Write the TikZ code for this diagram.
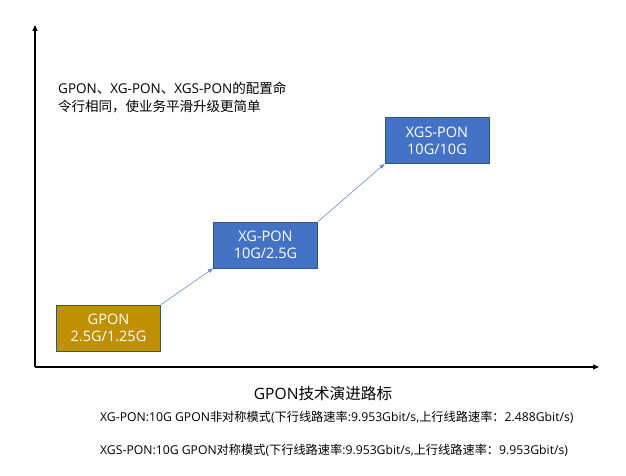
\documentclass[tikz,border=0pt]{standalone}
\usepackage{fontspec}
\setmainfont{Open Sans}
\newfontfamily\cjk{Noto Sans CJK SC}
\newcommand\zh[1]{{\cjk #1}}
\usetikzlibrary{arrows.meta}
\definecolor{gold}{HTML}{BF9000}
\definecolor{blu}{HTML}{4472C4}
\definecolor{bord}{HTML}{2F528F}
\tikzset{
  stagebox/.style={draw=bord, line width=0.8pt, text=white, minimum width=104pt, minimum height=46pt, inner sep=0pt, align=center, font=\fontsize{14.5}{17}\selectfont},
  axis/.style={line width=1.2pt, -{Triangle[length=6pt,width=5pt]}},
  link/.style={draw=blu!80, line width=0.6pt, -{Triangle[length=5pt,width=4pt]}},
}
\begin{document}
\begin{tikzpicture}[x=1pt,y=-1pt]
\useasboundingbox (0,0) rectangle (626,476);
\coordinate (o) at (35,367);
\coordinate (ytop) at (35,25);
\coordinate (xend) at (599,367);
\draw[axis] (o) -- (ytop);
\draw[axis] (o) -- (xend);
\node[stagebox, fill=gold] (gpon) at (108.5,328) {GPON\\2.5G/1.25G};
\node[stagebox, fill=blu] (xg) at (265.5,245) {XG-PON\\10G/2.5G};
\node[stagebox, fill=blu] (xgs) at (437,140.5) {XGS-PON\\10G/10G};
\draw[link] (gpon.north east) -- (xg.south west);
\draw[link] (xg.north east) -- (xgs.south west);
\node[anchor=west, align=left, inner sep=0pt, font=\fontsize{13.5}{18}\selectfont] (note) at (58,97) {GPON\zh{、}XG-PON\zh{、}XGS-PON\zh{的配置命}\\\zh{令行相同，使业务平滑升级更简单}};
\node[inner sep=0pt, font=\fontsize{15.6}{18}\selectfont] (title) at (323,394) {GPON\zh{技术演进路标}};
\node[anchor=west, inner sep=0pt, font=\fontsize{12.2}{14}\selectfont] (l1) at (100,417) {XG-PON:10G GPON\zh{非对称模式}(\zh{下行线路速率}:9.953Gbit/s,\zh{上行线路速率：}2.488Gbit/s)};
\node[anchor=west, inner sep=0pt, font=\fontsize{12.2}{14}\selectfont] (l2) at (100,450) {XGS-PON:10G GPON\zh{对称模式}(\zh{下行线路速率}:9.953Gbit/s,\zh{上行线路速率：}9.953Gbit/s)};
\end{tikzpicture}
\end{document}
